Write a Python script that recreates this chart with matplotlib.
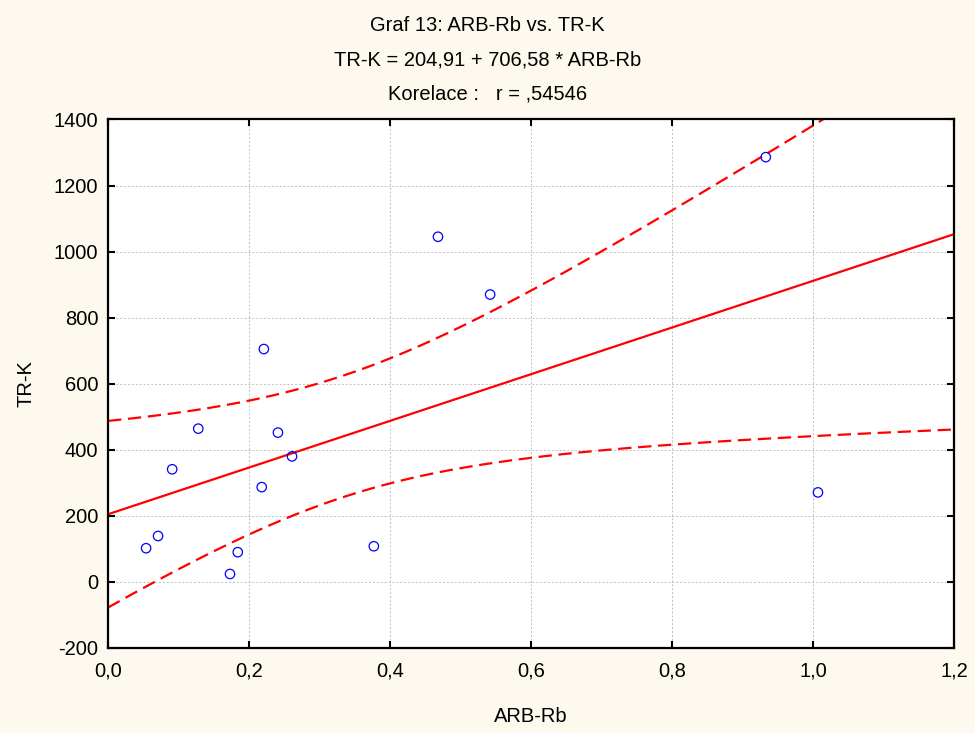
import numpy as np
import matplotlib.pyplot as plt

plt.rcParams['font.family'] = ['Liberation Sans', 'DejaVu Sans']
plt.rcParams['axes.unicode_minus'] = False

# ARB-Rb vs TR-K values
arb_rb = [0.054, 0.071, 0.091, 0.128, 0.173, 0.184, 0.218, 0.221, 0.241, 0.261,
          0.377, 0.468, 0.542, 0.933, 1.007]
tr_k = [102, 139, 341, 464, 24, 90, 287, 705, 452, 380,
        108, 1045, 870, 1286, 271]

# regression from the title
intercept = 204.91
slope = 706.58
r_text = ',54546'

x = np.array(arb_rb)
y = np.array(tr_k)
n = len(x)
resid = y - (intercept + slope * x)
s = np.sqrt(np.sum(resid ** 2) / (n - 2))
sxx = np.sum((x - x.mean()) ** 2)
t_crit = 2.160  # t(0.975, 13)

xs = np.linspace(0, 1.2, 200)
fit = intercept + slope * xs
half = t_crit * s * np.sqrt(1 / n + (xs - x.mean()) ** 2 / sxx)

bg = '#fdf9ef'
fs = 14.5
fig = plt.figure(figsize=(9.75, 7.33), dpi=100, facecolor=bg)
ax = fig.add_axes([0.1108, 0.1160, 0.8677, 0.7210])

ax.plot(xs, fit, color='#ff0000', lw=1.6)
ax.plot(xs, fit + half, color='#ff0000', lw=1.6, ls=(0, (6, 3)))
ax.plot(xs, fit - half, color='#ff0000', lw=1.6, ls=(0, (6, 3)))
ax.scatter(x, y, s=46, facecolors='none', edgecolors='#0000ff', linewidths=0.9, zorder=3)

ax.set_xlim(0, 1.2)
ax.set_ylim(-200, 1400)
xt = np.arange(0, 1.21, 0.2)
ax.set_xticks(xt)
ax.set_xticklabels([f'{v:.1f}'.replace('.', ',') for v in xt])
ax.set_yticks(np.arange(-200, 1401, 200))
ax.grid(True, color='#c0c0c0', ls=(0, (2, 2)), lw=0.7)
ax.tick_params(direction='in', top=True, right=True, length=5, width=1.5,
               labelsize=fs)
ax.tick_params(axis='x', pad=10)
ax.tick_params(axis='y', pad=7)
for sp in ax.spines.values():
    sp.set_linewidth(1.6)

ax.set_xlabel('ARB-Rb', fontsize=fs, labelpad=19)
ax.set_ylabel('TR-K', fontsize=fs, labelpad=13)

fig.text(0.5, 0.965, 'Graf 13: ARB-Rb vs. TR-K', ha='center', va='center', fontsize=fs)
fig.text(0.5, 0.918, 'TR-K = 204,91 + 706,58 * ARB-Rb', ha='center', va='center', fontsize=fs)
fig.text(0.5, 0.872, 'Korelace :   r = ' + r_text, ha='center', va='center', fontsize=fs)

fig.savefig('out.png', dpi=100, facecolor=bg)
